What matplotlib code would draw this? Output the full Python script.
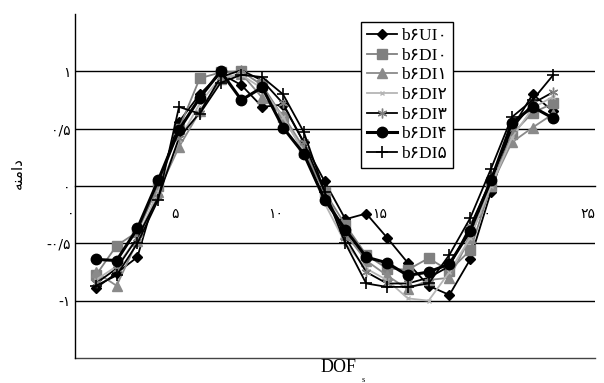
import matplotlib
matplotlib.use('Agg')
import matplotlib.pyplot as plt
from matplotlib.font_manager import FontProperties

# ---------------- data ----------------
dof = list(range(1, 24))
b6UI0 = [-0.89, -0.76, -0.62, 0.00, 0.56, 0.80, 0.98, 0.88, 0.69, 0.71, 0.38, 0.04,
         -0.29, -0.24, -0.45, -0.67, -0.87, -0.95, -0.64, -0.05, 0.50, 0.80, 0.65]
b6DI0 = [-0.78, -0.52, -0.40, 0.00, 0.50, 0.94, 0.99, 1.00, 0.88, 0.60, 0.30, -0.05,
         -0.34, -0.60, -0.72, -0.73, -0.63, -0.74, -0.56, 0.00, 0.45, 0.64, 0.72]
b6DI1 = [-0.75, -0.87, -0.48, -0.05, 0.34, 0.65, 0.93, 0.98, 0.77, 0.62, 0.33, -0.05,
         -0.42, -0.65, -0.78, -0.90, -0.82, -0.80, -0.45, 0.00, 0.38, 0.51, 0.63]
b6DI2 = [-0.82, -0.70, -0.45, -0.05, 0.40, 0.72, 0.95, 0.97, 0.85, 0.60, 0.30, -0.15,
         -0.50, -0.72, -0.82, -0.98, -1.00, -0.75, -0.45, 0.00, 0.42, 0.68, 0.78]
b6DI3 = [-0.85, -0.72, -0.45, -0.10, 0.42, 0.64, 0.95, 1.01, 0.92, 0.72, 0.38, -0.05,
         -0.45, -0.75, -0.85, -0.85, -0.80, -0.70, -0.35, 0.05, 0.50, 0.72, 0.82]
b6DI4 = [-0.64, -0.65, -0.37, 0.05, 0.49, 0.77, 1.00, 0.75, 0.86, 0.51, 0.28, -0.12,
         -0.38, -0.62, -0.67, -0.78, -0.75, -0.68, -0.39, 0.05, 0.55, 0.69, 0.59]
b6DI5 = [-0.87, -0.78, -0.50, -0.12, 0.69, 0.63, 0.90, 0.97, 0.95, 0.80, 0.47, -0.05,
         -0.50, -0.85, -0.88, -0.88, -0.85, -0.60, -0.28, 0.15, 0.60, 0.75, 0.97]

series_names = ['b۶UI۰', 'b۶DI۰', 'b۶DI۱', 'b۶DI۲', 'b۶DI۳', 'b۶DI۴', 'b۶DI۵']
x_ticks = [0, 5, 10, 15, 20, 25]
x_tick_labels = ['۰', '۵', '۱۰', '۱۵', '۲۰', '۲۵']
y_ticks = [-1, -0.5, 0, 0.5, 1]
y_tick_labels = ['-۱', '-۰/۵', '۰', '۰/۵', '۱']
y_title = 'ﻪﻨﻣﺍﺩ'   # دامنه (shaped, visual order)
x_title = 'DOF'
x_title_sub = 's'

# ---------------- figure ----------------
W, H = 604, 383
fig = plt.figure(figsize=(W / 100, H / 100), dpi=100)
L, R, T, B = 75, 595, 14, 358
ax = fig.add_axes([L / W, (H - B) / H, (R - L) / W, (B - T) / H])
ax.set_xlim(0, 25)
ax.set_ylim(-1.5, 1.5)

for yv in [-1, -0.5, 0.5, 1]:
    ax.axhline(yv, color='black', lw=1.0, zorder=1)
ax.axhline(-1.5, color='#444444', lw=1.0, zorder=1, clip_on=False)

styles = [
    dict(color='black', lw=1.3, marker='D', ms=5, mfc='black', mec='black'),
    dict(color='#808080', lw=1.3, marker='s', ms=6.5, mfc='#808080', mec='#808080'),
    dict(color='#8a8a8a', lw=1.3, marker='^', ms=6.5, mfc='#8a8a8a', mec='#8a8a8a'),
    dict(color='#b5b5b5', lw=1.3, marker='x', ms=3, mfc='#b5b5b5', mec='#b5b5b5'),
    dict(color='black', lw=1.3, marker=(6, 2, 0), ms=7, mfc='#808080', mec='#808080', mew=1.0),
    dict(color='black', lw=2.2, marker='o', ms=7.5, mfc='black', mec='black'),
    dict(color='black', lw=1.3, marker='+', ms=8, mfc='black', mec='black', mew=1.2),
]
data = [b6UI0, b6DI0, b6DI1, b6DI2, b6DI3, b6DI4, b6DI5]
for name, vals, st in zip(series_names, data, styles):
    ax.plot(dof, vals, label=name, zorder=3, **st)

# axes
for s in ['top', 'right']:
    ax.spines[s].set_visible(False)
ax.spines['bottom'].set_position(('data', 0))
ax.spines['bottom'].set_color('black')
ax.spines['left'].set_color('black')
ax.spines['left'].set_linewidth(1.0)
ax.spines['bottom'].set_linewidth(1.0)

digit_font = FontProperties(family=['DejaVu Sans'], size=10)
ax.set_xticks(x_ticks)
ax.set_xticklabels(x_tick_labels, fontproperties=digit_font, ha='right')
ax.tick_params(axis='x', length=0, pad=15)
ax.set_yticks(y_ticks)
ax.set_yticklabels(y_tick_labels, fontproperties=digit_font)
ax.tick_params(axis='y', length=0, pad=3)

fig.text(17 / W, 1 - 173 / H, y_title, rotation=90, ha='center', va='center',
         fontproperties=FontProperties(family=['DejaVu Sans'], size=11))
fig.text(339 / W, 1 - 367 / H, x_title, ha='center', va='center',
         fontproperties=FontProperties(family=['Liberation Serif'], size=13))
fig.text(362 / W, 1 - 380 / H, x_title_sub, ha='left', va='center',
         fontproperties=FontProperties(family=['Liberation Serif'], size=6))

leg_font = FontProperties(family=['Liberation Serif', 'DejaVu Sans'], size=12.5)
leg = ax.legend(loc='upper left', bbox_to_anchor=(361 / W, 1 - 22 / H),
                bbox_transform=fig.transFigure, prop=leg_font, frameon=True,
                fancybox=False, borderaxespad=0, handlelength=1.7,
                handletextpad=0.25, labelspacing=0.2, borderpad=0.35)
leg.get_frame().set_edgecolor('black')
leg.get_frame().set_linewidth(1.0)
leg.get_frame().set_alpha(1)

fig.savefig('out.png', dpi=100)
